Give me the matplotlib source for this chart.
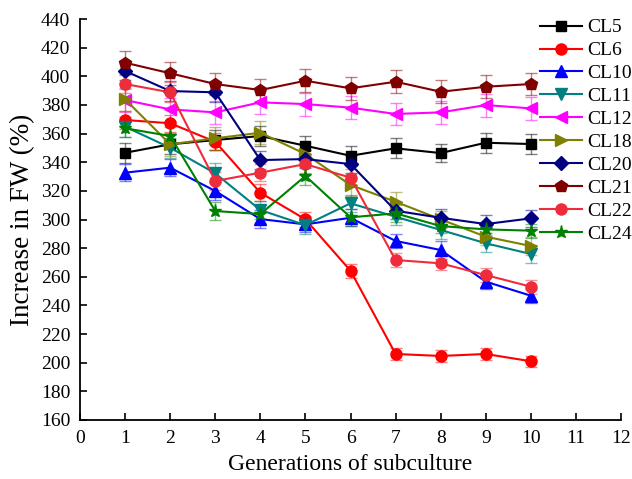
import matplotlib
matplotlib.use("Agg")
import matplotlib.pyplot as plt
import numpy as np

plt.rcParams['font.family'] = ['Liberation Serif', 'DejaVu Serif']

generations = [1, 2, 3, 4, 5, 6, 7, 8, 9, 10]

CL5 = [346.6, 352.5, 355.5, 358.3, 351.5, 344.5, 349.7, 346.4, 353.6, 352.7]
CL6 = [369.5, 367.2, 354.3, 318.7, 300.1, 264.2, 206.1, 204.7, 206.1, 201.0]
CL10 = [332.7, 336.2, 319.9, 300.3, 296.6, 301.2, 285.0, 278.7, 256.6, 246.8]
CL11 = [364.8, 350.1, 332.2, 306.6, 296.1, 311.3, 301.9, 292.7, 283.4, 275.9]
CL12 = [383.4, 376.9, 374.8, 381.8, 380.6, 378.1, 373.7, 374.8, 379.9, 377.6]
CL18 = [383.9, 352.5, 356.7, 360.6, 345.7, 324.1, 312.4, 300.1, 288.0, 281.5]
CL20 = [403.7, 389.7, 388.8, 341.5, 342.2, 338.7, 306.1, 301.2, 296.8, 300.8]
CL21 = [409.5, 402.1, 394.6, 390.4, 396.9, 391.6, 396.2, 389.2, 392.7, 394.6]
CL22 = [394.6, 388.8, 326.9, 332.7, 338.7, 329.2, 271.7, 269.4, 261.2, 253.1]
CL24 = [363.7, 358.3, 305.9, 303.8, 330.4, 301.5, 304.3, 295.4, 293.1, 292.2]

CL5_err = [7, 7, 7, 7, 7, 7, 7, 6, 7, 7]
CL6_err = [6, 6, 6, 6, 5, 5, 4, 4, 4, 4]
CL10_err = [6, 6, 6, 6, 5, 6, 5, 6, 5, 5]
CL11_err = [7, 7, 7, 6, 6, 6, 6, 6, 6, 6]
CL12_err = [8, 8, 8, 8, 8, 8, 8, 8, 8, 8]
CL18_err = [8, 8, 8, 8, 8, 8, 7, 6, 6, 6]
CL20_err = [6, 7, 7, 6, 6, 6, 6, 6, 6, 6]
CL21_err = [8, 8, 8, 8, 8, 8, 8, 8, 8, 8]
CL22_err = [6, 7, 6, 6, 6, 6, 5, 5, 5, 5]
CL24_err = [6, 6, 6, 6, 6, 6, 6, 5, 5, 5]

labels = ['CL5', 'CL6', 'CL10', 'CL11', 'CL12', 'CL18', 'CL20', 'CL21', 'CL22', 'CL24']
series = [CL5, CL6, CL10, CL11, CL12, CL18, CL20, CL21, CL22, CL24]
errors = [CL5_err, CL6_err, CL10_err, CL11_err, CL12_err, CL18_err, CL20_err, CL21_err, CL22_err, CL24_err]
colors = ['#000000', '#FF0000', '#0000FF', '#008080', '#FF00FF', '#808000', '#000080', '#800000', '#EE2C3C', '#008000']
markers = ['s', 'o', '^', 'v', '<', '>', 'D', 'p', 'o', '*']
msizes = [7.5, 8, 8.5, 8.5, 8.5, 8.5, 7, 9, 8, 9.5]

fig = plt.figure(figsize=(6.32, 4.79), dpi=100)
ax = fig.add_axes([0.1266, 0.1232, 0.856, 0.8371])

handles = []
for y, e, c, m, ms, lab in zip(series, errors, colors, markers, msizes, labels):
    ax.errorbar(generations, y, yerr=e, fmt='none', ecolor=c, alpha=0.5,
                elinewidth=1.0, capsize=4, capthick=1.0, zorder=2)
    h, = ax.plot(generations, y, color=c, marker=m, markersize=ms, linewidth=1.5,
                 label=lab, zorder=3)
    handles.append(h)

ax.set_xlim(0, 12)
ax.set_ylim(160, 440)
ax.set_xticks(np.arange(0, 13, 1))
ax.set_yticks(np.arange(160, 441, 20))
ax.spines['top'].set_visible(False)
ax.spines['right'].set_visible(False)
ax.spines['left'].set_linewidth(1.3)
ax.spines['bottom'].set_linewidth(1.3)
ax.tick_params(direction='in', length=5, width=1.2, labelsize=14, pad=7)
ax.set_xlabel('Generations of subculture', fontsize=17, labelpad=5)
ax.set_ylabel('Increase in FW (%)', fontsize=19.5, labelpad=4)

leg = fig.legend(handles=handles, loc='upper left', bbox_to_anchor=(0.848, 0.969),
                 frameon=False, fontsize=14, handlelength=2.15, handletextpad=0.3,
                 labelspacing=0.275, borderaxespad=0.0, borderpad=0.2)

fig.savefig('out.png', dpi=100)
